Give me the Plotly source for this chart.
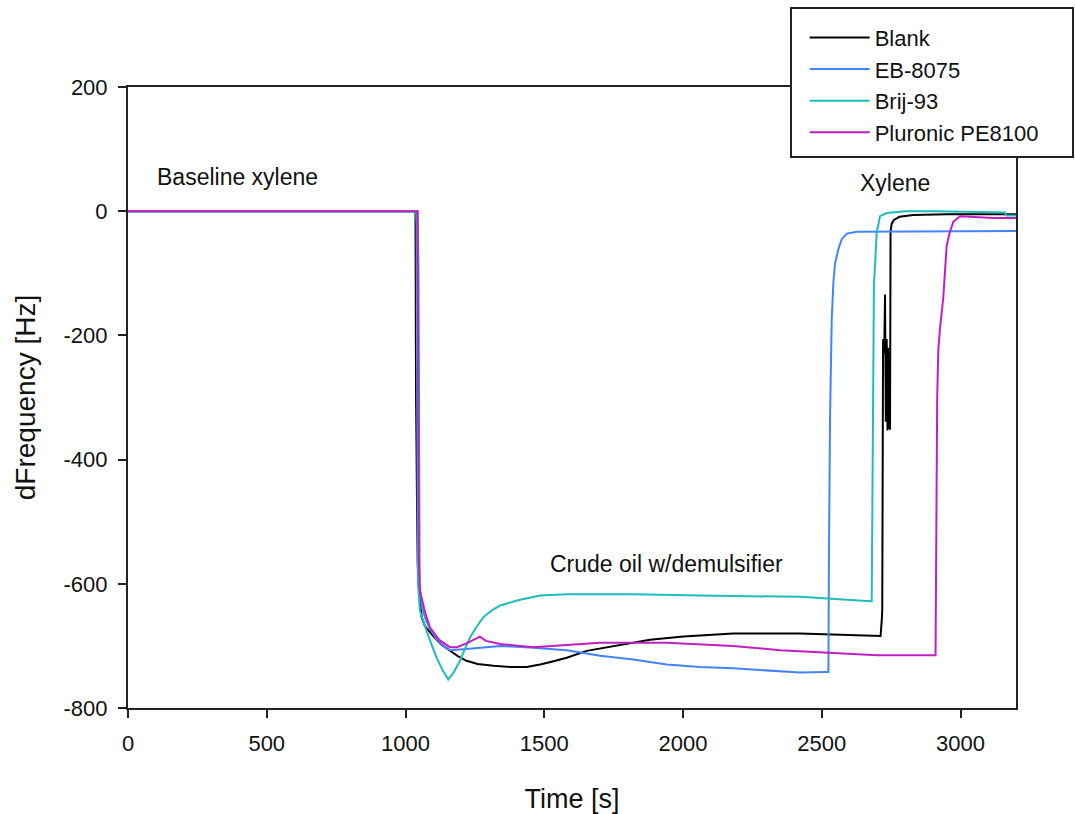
import plotly.graph_objects as go

# ---- data ----
blank_t = [0, 1036, 1038, 1040, 1042, 1044, 1047, 1052, 1058, 1070, 1085, 1100, 1130, 1160, 1190,
           1220, 1260, 1317, 1380, 1437, 1485, 1530, 1581, 1653, 1761, 1881, 2001, 2181, 2422,
           2600, 2712, 2716, 2718, 2721, 2725, 2728, 2731, 2734, 2737, 2739, 2741, 2744, 2746,
           2748, 2752, 2760, 2780, 2830, 2950, 3200]
blank_f = [0, 0, -300, -494, -494, -568, -600, -622, -654, -668, -676, -684, -698, -708, -717,
           -724, -729, -732, -734, -734, -730, -725, -719, -708, -700, -690, -685, -680, -680,
           -682, -684, -660, -643, -206, -230, -134, -339, -206, -353, -220, -350, -240, -352,
           -33, -20, -14, -9, -6, -5, -5]

eb_t = [0, 1044, 1047, 1049, 1051, 1060, 1075, 1088, 1110, 1136, 1160, 1220, 1341, 1461, 1581,
        1701, 1821, 1941, 2061, 2181, 2301, 2422, 2515, 2524, 2526, 2530, 2536, 2542, 2548,
        2560, 2572, 2590, 2626, 3100, 3105, 3200]
eb_f = [0, 0, -110, -400, -600, -640, -660, -672, -688, -700, -707, -705, -700, -703, -707,
        -716, -722, -730, -734, -736, -740, -743, -742, -742, -548, -328, -173, -114, -84,
        -61, -45, -36, -33, -33, -32, -32]

brij_t = [0, 1038, 1040, 1042, 1045, 1052, 1064, 1076, 1094, 1112, 1135, 1154, 1175, 1196, 1214,
          1232, 1255, 1280, 1310, 1341, 1401, 1485, 1581, 1821, 2061, 2422, 2676, 2680, 2682,
          2684, 2688, 2694, 2698, 2704, 2710, 2734, 2800, 2914, 3160, 3166, 3200]
brij_f = [0, 0, -20, -350, -600, -644, -662, -676, -698, -719, -740, -754, -742, -724, -705,
          -687, -670, -654, -643, -635, -627, -619, -617, -617, -619, -621, -628, -628, -501,
          -300, -117, -70, -33, -22, -8, -3, 0, 0, -2, -7, -7]

plu_t = [0, 1043, 1046, 1048, 1052, 1070, 1088, 1120, 1160, 1185, 1220, 1245, 1268, 1290, 1341,
         1461, 1581, 1701, 1941, 2181, 2350, 2500, 2700, 2910, 2914, 2916, 2920, 2926, 2938,
         2944, 2950, 2962, 2974, 2998, 3118, 3200]
plu_f = [0, 0, -300, -560, -611, -645, -670, -690, -702, -702, -696, -690, -685, -692, -697,
         -702, -698, -695, -695, -700, -707, -710, -715, -715, -370, -300, -223, -189, -139,
         -100, -56, -33, -17, -8, -11, -11]

series_names = ["Blank", "EB-8075", "Brij-93", "Pluronic PE8100"]
series_colors = ["#000000", "#4483ff", "#1fbcbc", "#c21fc2"]

x_ticks = [0, 500, 1000, 1500, 2000, 2500, 3000]
x_tick_text = ["0", "500", "1000", "1500", "2000", "2500", "3000"]
y_ticks = [-800, -600, -400, -200, 0, 200]
y_tick_text = ["-800", "-600", "-400", "-200", "0", "200"]

FONT = "Liberation Sans, Arial, sans-serif"

fig = go.Figure()
for name, color, t, f in zip(series_names, series_colors,
                             [blank_t, eb_t, brij_t, plu_t],
                             [blank_f, eb_f, brij_f, plu_f]):
    fig.add_trace(go.Scatter(x=t, y=f, mode="lines", name=name,
                             line=dict(color=color, width=2)))

axis_common = dict(showline=True, linewidth=2, linecolor="#222", mirror=True,
                   ticks="outside", ticklen=8, tickwidth=2, tickcolor="#222",
                   showgrid=False, zeroline=False, automargin=False,
                   tickfont=dict(size=22, family=FONT, color="#111"))

fig.update_xaxes(range=[0, 3200], tickvals=x_ticks, ticktext=x_tick_text, ticklabelstandoff=7,
                 title=dict(text="Time [s]", font=dict(size=27, family=FONT, color="#111"),
                            standoff=35),
                 **axis_common)
fig.update_yaxes(range=[-800, 200], tickvals=y_ticks, ticktext=y_tick_text, ticklabelstandoff=6,
                 title=dict(text="dFrequency [Hz]", font=dict(size=28, family=FONT, color="#111"),
                            standoff=20),
                 **axis_common)

# legend frame
fig.add_shape(type="rect", xref="paper", yref="paper",
              x0=0.7466, x1=1.0642, y0=0.8873, y1=1.1272,
              line=dict(color="#222", width=2), fillcolor="white", layer="above")

fig.update_layout(
    width=1075, height=814,
    margin=dict(l=128, r=59, t=87, b=106, autoexpand=False),
    paper_bgcolor="white", plot_bgcolor="white",
    font=dict(family=FONT, color="#111"),
    showlegend=True,
    legend=dict(x=0.762, y=1.003, xanchor="left", yanchor="middle",
                bgcolor="rgba(0,0,0,0)", borderwidth=0,
                font=dict(size=22, family=FONT, color="#111"),
                itemwidth=60, tracegroupgap=0),
    annotations=[
        dict(x=97, y=55, xref="x", yref="y", text="Baseline xylene", showarrow=False,
             xanchor="left", yanchor="middle", font=dict(size=23, family=FONT, color="#111")),
        dict(x=2631, y=45, xref="x", yref="y", text="Xylene", showarrow=False,
             xanchor="left", yanchor="middle", font=dict(size=23, family=FONT, color="#111")),
        dict(x=1513, y=-568, xref="x", yref="y", text="Crude oil w/demulsifier", showarrow=False,
             xanchor="left", yanchor="middle", font=dict(size=23, family=FONT, color="#111")),
    ],
)

fig.write_html("out.html")
